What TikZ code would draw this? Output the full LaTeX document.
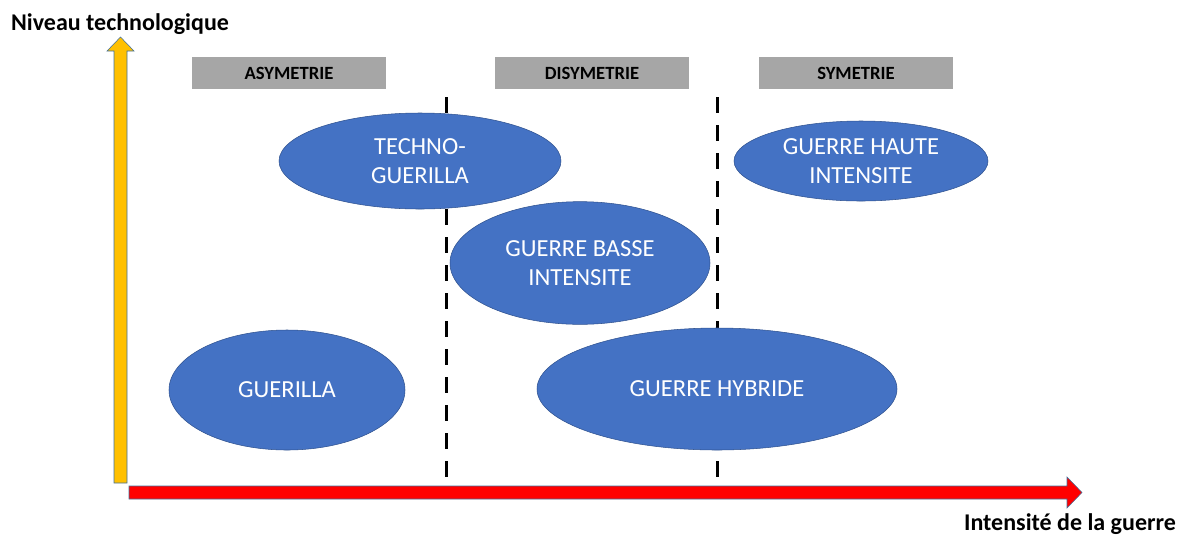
\documentclass[tikz,border=0pt]{standalone}
\usepackage{fontspec}
\setmainfont{Carlito}
\usetikzlibrary{shapes.geometric}
\definecolor{warblue}{HTML}{4472C4}
\definecolor{warline}{HTML}{2F528F}
\definecolor{axisline}{HTML}{41719C}
\definecolor{headgray}{HTML}{A6A6A6}
\definecolor{axisyellow}{HTML}{FFC000}

\begin{document}
\begin{tikzpicture}[x=0.75pt,y=-0.75pt]
\useasboundingbox (0,0) rectangle (1186,537);
\tikzstyle{war}=[ellipse,draw=warline,fill=warblue,text=white,inner sep=0pt,align=center,font=\fontsize{18.4}{22}\selectfont]
\tikzstyle{header}=[rectangle,fill=headgray,minimum width=145.5pt,minimum height=24pt,inner sep=0pt,font=\fontsize{14}{16}\selectfont\bfseries]
\tikzstyle{axislabel}=[font=\fontsize{18}{20}\selectfont\bfseries]
% axes
\filldraw[draw=axisline,fill=axisyellow] (114,483) -- (114,51) -- (107,51) -- (120.5,37) -- (134,51) -- (127,51) -- (127,483) -- cycle;
\filldraw[draw=axisline,fill=red] (129,486) -- (1067,486) -- (1067,477) -- (1082,492.5) -- (1067,508) -- (1067,499) -- (129,499) -- cycle;
\node[axislabel] (niveau) at (120,24) {Niveau technologique};
\node[axislabel] (intensite) at (1070,524) {Intensité de la guerre};
% zones
\node[header] (asym) at (289,73) {ASYMETRIE};
\node[header] (disym) at (592,73) {DISYMETRIE};
\node[header] (sym) at (856,73) {SYMETRIE};
\coordinate (cut1top) at (446,97);
\coordinate (cut1bot) at (446,485);
\coordinate (cut2top) at (717,97);
\coordinate (cut2bot) at (717,485);
\draw[line width=2.25pt,dash pattern=on 12pt off 9pt] (cut1top) -- (cut1bot);
\draw[line width=2.25pt,dash pattern=on 12pt off 9pt] (cut2top) -- (cut2bot);
% wars
\node[war,minimum width=211.5pt,minimum height=72pt] (techno) at (420,161) {TECHNO-\\GUERILLA};
\node[war,minimum width=190.5pt,minimum height=60pt] (haute) at (861,161) {GUERRE HAUTE\\INTENSITE};
\node[war,minimum width=195pt,minimum height=92pt] (basse) at (580,263) {GUERRE BASSE\\INTENSITE};
\node[war,minimum width=177pt,minimum height=90pt] (guerilla) at (287,390) {GUERILLA};
\node[war,minimum width=270pt,minimum height=91.5pt] (hybride) at (717,389) {GUERRE HYBRIDE};
\end{tikzpicture}
\end{document}
